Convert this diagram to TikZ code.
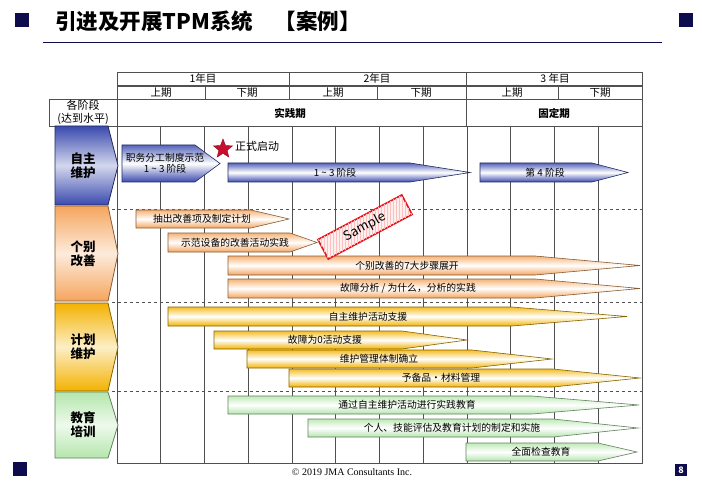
\documentclass[tikz,border=0pt]{standalone}
\usepackage{fontspec}
\setmainfont{Noto Sans CJK SC}
\newfontfamily\serifen{Liberation Serif}
\usetikzlibrary{shapes.geometric,patterns}
\definecolor{navy}{HTML}{0F0C4E}
\definecolor{blueband}{HTML}{3A4AAE}
\definecolor{orangeband}{HTML}{F5A55E}
\definecolor{goldband}{HTML}{F3B200}
\definecolor{greenband}{HTML}{B4E6AC}
\definecolor{gridline}{HTML}{505050}
\definecolor{stampred}{HTML}{E3141B}
\definecolor{starred}{HTML}{C8102E}
\tikzset{
  gridbox/.style={draw=gridline,line width=0.8pt},
  headtext/.style={font=\fontsize{10.5}{12}\selectfont,inner sep=0pt},
  bartext/.style={font=\fontsize{9.8}{10.5}\selectfont,inner sep=0pt,align=center},
  cattext/.style={font=\bfseries\fontsize{12.5}{14}\selectfont,align=center,inner sep=0pt},
  catbox/.style={draw=#1!55!black,line width=0.8pt,top color=#1,bottom color=#1,middle color=#1!22},
  bar/.style={draw=#1!55!black,line width=0.6pt,top color=#1!85,bottom color=#1,middle color=white}
}
\begin{document}
\begin{tikzpicture}[x=1pt,y=-1pt]
\useasboundingbox (0,0) rectangle (702,484);
% page frame
\fill[navy] (15,13) rectangle (29,27);
\fill[navy] (679,13) rectangle (693,27);
\fill[navy] (13,462) rectangle (27,476);
\node[anchor=west,font=\bfseries\fontsize{21.5}{24}\selectfont,inner sep=0pt] (title) at (55,21) {引进及开展TPM系统　【案例】};
\draw[navy,line width=1pt] (43,43) -- (662,43);
% header rows
\draw[gridbox] (117,72) rectangle (642,85) (289,72) -- (289,85) (466,72) -- (466,85);
\draw[gridbox] (117,86) rectangle (642,99);
\foreach \x in {205,289,377,466,558} \draw[gridbox] (\x,86) -- (\x,99);
\draw[gridbox] (49,99) rectangle (642,126) (117,99) -- (117,126) (466,99) -- (466,126);
\foreach \x/\lab [count=\i] in {203/1年目,377/2年目,555/3 年目}
  \node[headtext] (year\i) at (\x,78.5) {\lab};
\foreach \x/\lab [count=\i] in {161/上期,247/下期,333/上期,421/下期,512/上期,600/下期}
  \node[headtext] (half\i) at (\x,92.5) {\lab};
\node[headtext,align=center,font=\fontsize{11}{13.5}\selectfont] (stages) at (83,112.5) {各阶段\\(达到水平)};
\node[headtext,font=\bfseries\fontsize{10.5}{12}\selectfont] (practice) at (290,113) {实践期};
\node[headtext,font=\bfseries\fontsize{10.5}{12}\selectfont] (fixed) at (554,113) {固定期};
% body grid
\draw[gridbox] (117,126) rectangle (642,463);
\foreach \k in {1,...,11} \draw[gridbox] ({117+43.75*\k},126) -- ({117+43.75*\k},463);
\foreach \y in {209,302,391} \draw[gridline,dashed,line width=0.7pt] (112,\y) -- (642,\y);
% category chevrons
\foreach \yt/\yb/\c/\lab [count=\i] in {126/205/blueband/{自主\\维护},206/301/orangeband/{个别\\改善},303/391/goldband/{计划\\维护},392/458/greenband/{教育\\培训}}{
  \path[catbox=\c] (55,\yt) -- (108,\yt) -- (118,{(\yt+\yb)/2}) -- (108,\yb) -- (55,\yb) -- cycle;
  \node[cattext] (cat\i) at (83,{(\yt+\yb)/2}) {\lab};
}
% bars: start / taper / tip / top / bottom / text x / label
\foreach \xs/\xt/\xe/\yt/\yb/\c/\tx/\lab [count=\i] in {
  122/195/220/145/182/blueband/165/{职务分工制度示范\\1 \textasciitilde\ 3 阶段},
  228/410/470/163/182/blueband/335/{1 \textasciitilde\ 3 阶段},
  480/592/628/163/182/blueband/545/{第 4 阶段},
  136/251/289/210/228/orangeband/202/{抽出改善项及制定计划},
  168/290/317/233/252/orangeband/235/{示范设备的改善活动实践},
  228/535/640/256/275/orangeband/407/{个别改善的7大步骤展开},
  228/535/640/279/298/orangeband/408/{故障分析 / 为什么，分析的实践},
  168/512/627/307/326/goldband/368/{自主维护活动支援},
  214/402/467/331/349/goldband/325/{故障为0活动支援},
  247/472/552/350/368/goldband/379/{维护管理体制确立},
  289/553/640/369/387/goldband/441/{予备品・材料管理},
  228/532/639/396/414/greenband/407/{通过自主维护活动进行实践教育},
  308/553/638/419/437/greenband/452/{个人、技能评估及教育计划的制定和实施},
  466/598/637/443/461/greenband/541/{全面检查教育}}{
  \path[bar=\c] (\xs,\yt) -- (\xt,\yt) -- (\xe,{(\yt+\yb)/2}) -- (\xt,\yb) -- (\xs,\yb) -- cycle;
  \node[bartext] (bar\i) at (\tx,{(\yt+\yb)/2}) {\lab};
}
% launch marker and stamp
\node[star,star points=5,star point ratio=2.3,fill=starred,draw=starred!70!black,minimum size=20pt,inner sep=0pt] (launch) at (223,149) {};
\node[headtext,anchor=west,font=\fontsize{11}{12}\selectfont] (launchtext) at (235,146) {正式启动};
\node[draw=stampred,line width=1.6pt,fill=red!6,postaction={pattern=vertical lines,pattern color=red!25},rotate=28,minimum width=95pt,minimum height=22pt] (stamp) at (365,227) {};
\node[rotate=28,font=\fontsize{13}{14}\selectfont,inner sep=0pt] (stamptext) at (stamp.center) {Sample};
% footer
\node[font=\serifen\fontsize{10}{11}\selectfont,inner sep=0pt] (copyr) at (352,472) {\textcopyright\ 2019 JMA Consultants Inc.};
\node[fill=navy,text=white,font=\bfseries\fontsize{9}{9}\selectfont,minimum size=12pt,inner sep=0pt] (pagenum) at (681,470) {8};
\end{tikzpicture}
\end{document}
